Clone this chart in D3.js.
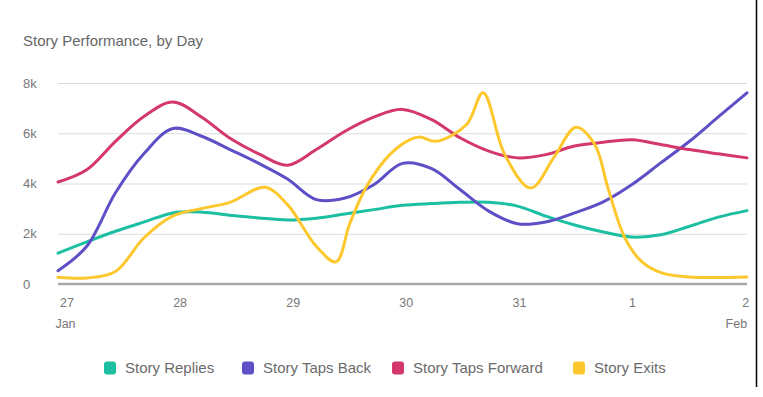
<!DOCTYPE html>
<html>
<head>
<meta charset="utf-8">
<title>Story Performance</title>
<script src="https://cdn.jsdelivr.net/npm/d3@7"></script>
<style>
  body { margin: 0; background: #fff; }
  svg { font-family: "Liberation Sans", Arial, sans-serif; }
</style>
</head>
<body>
<svg width="763" height="397" id="mainsvg"></svg>
<script>
// hours from Jan 27 00:00, read roughly every six hours
const gridHours = [-1.8, 4.3, 10.4, 16.5, 22.6, 28.7, 34.7, 40.8, 46.9, 53.0, 59.1, 65.2, 71.3, 77.4, 83.5, 89.6, 95.7, 101.7, 107.8, 113.9, 120.0, 126.1, 132.2, 138.3, 144.4];
const repliesValues = [1230, 1680, 2100, 2470, 2830, 2860, 2740, 2630, 2550, 2620, 2790, 2960, 3130, 3200, 3250, 3250, 3100, 2700, 2350, 2070, 1870, 1960, 2300, 2660, 2920];
const tapsBackValues = [530, 1500, 3630, 5200, 6190, 5880, 5350, 4800, 4180, 3360, 3420, 3950, 4800, 4600, 3760, 2900, 2400, 2470, 2830, 3270, 3960, 4820, 5680, 6650, 7610];
const tapsForwardValues = [4060, 4550, 5680, 6680, 7240, 6640, 5800, 5180, 4730, 5350, 6080, 6640, 6950, 6550, 5820, 5290, 5020, 5150, 5490, 5640, 5740, 5550, 5350, 5180, 5020];
// exits swings harder, so it is read at its own hours
const exitsHours = [-1.8, 4.3, 10.4, 16.4, 22.5, 28.6, 34.7, 42.1, 46.9, 53.0, 57.2, 60.1, 63.7, 68.6, 72.9, 75.0, 78.5, 84.9, 88.4, 93.0, 98.5, 103.6, 108.1, 112.1, 114.9, 118.5, 122.0, 126.3, 131.9, 144.4];
const exitsValues = [270, 240, 500, 1830, 2700, 3000, 3250, 3850, 3160, 1500, 880, 2400, 3890, 5150, 5750, 5850, 5680, 6350, 7610, 5150, 3820, 5090, 6240, 5550, 3820, 1830, 900, 440, 280, 280];

const seriesNames = ['Story Replies', 'Story Taps Back', 'Story Taps Forward', 'Story Exits'];
const seriesColors = ['#1dbfa3', '#5d4fc5', '#d4376a', '#fdc82e'];
const dayTicks = [0, 24, 48, 72, 96, 120, 144];
const dayLabels = ['27', '28', '29', '30', '31', '1', '2'];
const monthTicks = [0, 144];
const monthLabels = ['Jan', 'Feb'];
const yTicks = [0, 2000, 4000, 6000, 8000];

const svg = d3.select('svg');
const margin = {top: 83, right: 16, bottom: 113, left: 58};
const width = +svg.attr('width');
const height = +svg.attr('height');
const innerWidth = width - margin.left - margin.right;
const innerHeight = height - margin.top - margin.bottom;

const xScale = d3.scaleLinear().domain([gridHours[0], gridHours[gridHours.length - 1]]).range([0, innerWidth]);
const yScale = d3.scaleLinear().domain([0, 8000]).range([innerHeight, 0]);

svg.append('text')
  .attr('x', 23).attr('y', 46)
  .attr('fill', '#666').attr('font-size', 15)
  .text('Story Performance, by Day');

const g = svg.append('g').attr('transform', `translate(${margin.left},${margin.top})`);

// grid lines + y labels
const yAxis = d3.axisLeft(yScale).tickValues(yTicks)
  .tickSize(-innerWidth)
  .tickFormat(d => d === 0 ? '0' : d / 1000 + 'k');
const yAxisGroup = g.append('g').call(yAxis);
yAxisGroup.select('.domain').remove();
yAxisGroup.selectAll('.tick line').attr('stroke', '#dcdcdc');
yAxisGroup.selectAll('.tick text')
  .attr('x', 23 - margin.left).attr('text-anchor', 'start')
  .attr('fill', '#777').attr('font-size', 13);

// baseline
g.append('line')
  .attr('x1', 0).attr('x2', innerWidth)
  .attr('y1', yScale(0)).attr('y2', yScale(0))
  .attr('stroke', '#a8a8a8').attr('stroke-width', 2.5);

// day labels
const xAxis = d3.axisBottom(xScale).tickValues(dayTicks).tickSize(0)
  .tickFormat((d, i) => dayLabels[i]);
const xAxisGroup = g.append('g').attr('transform', `translate(0,${innerHeight})`).call(xAxis);
xAxisGroup.select('.domain').remove();
xAxisGroup.selectAll('.tick text')
  .attr('y', 14).attr('fill', '#777').attr('font-size', 12.5);

// month labels under first and last day
g.selectAll('.month')
  .data(monthTicks).join('text')
  .attr('class', 'month')
  .attr('x', d => xScale(d))
  .attr('y', innerHeight + 35).attr('dy', '0.71em')
  .attr('fill', '#777').attr('font-size', 12.5)
  .attr('text-anchor', (d, i) => i === 0 ? 'middle' : 'end')
  .attr('dx', (d, i) => i === 0 ? -1 : 2)
  .text((d, i) => monthLabels[i]);

const line = d3.line()
  .x(d => xScale(d[0]))
  .y(d => yScale(d[1]))
  .curve(d3.curveCatmullRom.alpha(0.5));

const seriesData = [
  d3.zip(gridHours, repliesValues),
  d3.zip(gridHours, tapsBackValues),
  d3.zip(gridHours, tapsForwardValues),
  d3.zip(exitsHours, exitsValues)
];

g.selectAll('.series')
  .data(seriesData)
  .join('path')
  .attr('class', 'series')
  .attr('fill', 'none')
  .attr('stroke', (d, i) => seriesColors[i])
  .attr('stroke-width', 3)
  .attr('stroke-linejoin', 'round')
  .attr('stroke-linecap', 'round')
  .attr('d', line);

// legend
const legendX = [104, 242, 392, 573];
const legend = svg.selectAll('.legend')
  .data(seriesNames).join('g')
  .attr('class', 'legend')
  .attr('transform', (d, i) => `translate(${legendX[i]},368)`);
legend.append('rect')
  .attr('x', 0).attr('y', -6.5)
  .attr('width', 12).attr('height', 13).attr('rx', 3)
  .attr('fill', (d, i) => seriesColors[i]);
legend.append('text')
  .attr('x', 21).attr('dy', '0.35em')
  .attr('fill', '#6b6b6b').attr('font-size', 15)
  .text(d => d);

// right edge rule
svg.append('line')
  .attr('x1', 756.5).attr('x2', 756.5)
  .attr('y1', 0).attr('y2', 387)
  .attr('stroke', '#000').attr('stroke-width', 1.5);
</script>
</body>
</html>
